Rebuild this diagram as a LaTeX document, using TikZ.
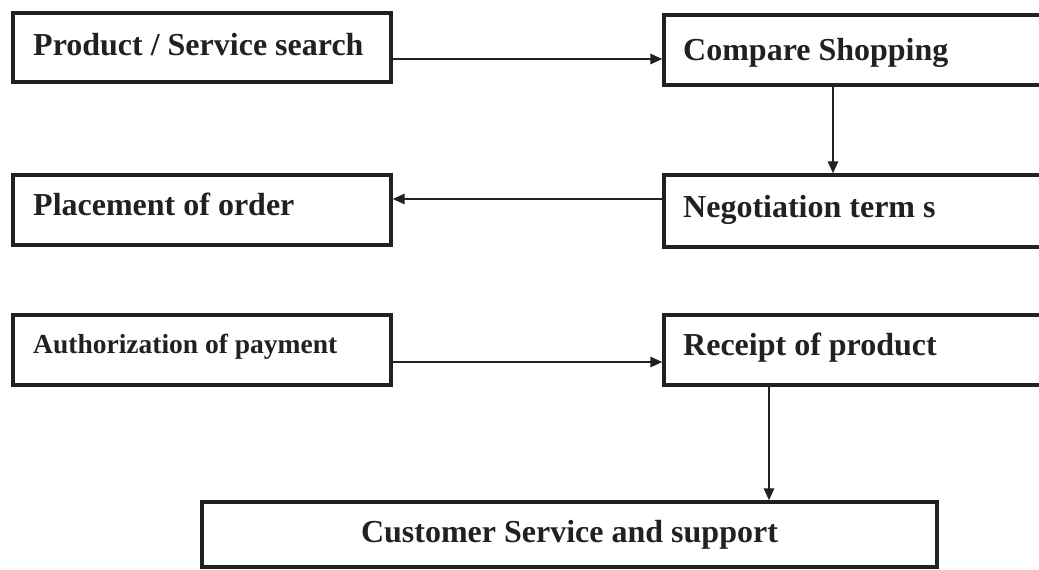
\documentclass[tikz,border=0pt]{standalone}
\usepackage{fontspec}
\setmainfont{Liberation Serif}
\usetikzlibrary{arrows.meta}
\definecolor{ink}{rgb}{0.13,0.13,0.13}
\tikzset{
  x=1pt, y=-1pt,
  stagebox/.style={draw=ink, line width=3.2pt, inner sep=0pt, fill=white},
  caption/.style={inner sep=0pt, text=ink, font=\fontsize{32}{38}\selectfont\bfseries},
  smallcaption/.style={caption, font=\fontsize{27.5}{33}\selectfont\bfseries},
  flow/.style={draw=ink, line width=2.6pt, -{Triangle[length=12pt,width=10pt]}}
}
\begin{document}
\begin{tikzpicture}
\useasboundingbox (0,0) rectangle (1039,570);
\clip (0,0) rectangle (1039,570);

% process stages (right column runs off the page edge)
\node[stagebox, minimum width=378pt, minimum height=69pt] (b1) at (202,47.5) {};
\node[stagebox, minimum width=381pt, minimum height=70pt] (b2) at (854.5,50) {};
\node[stagebox, minimum width=378pt, minimum height=70pt] (b3) at (202,210) {};
\node[stagebox, minimum width=381pt, minimum height=72pt] (b4) at (854.5,211) {};
\node[stagebox, minimum width=378pt, minimum height=70pt] (b5) at (202,350) {};
\node[stagebox, minimum width=381pt, minimum height=70pt] (b6) at (854.5,350) {};
\node[stagebox, minimum width=735pt, minimum height=65pt] (b7) at (569.5,534.5) {};

% stage captions
\node[caption, anchor=base west] (t1) at (33,55) {Product / Service search};
\node[caption, anchor=base west] (t2) at (683,60) {Compare Shopping};
\node[caption, anchor=base west] (t3) at (33,215) {Placement of order};
\node[caption, anchor=base west] (t4) at (683,217) {Negotiation term s};
\node[smallcaption, anchor=base west] (t5) at (33,353) {Authorization of payment};
\node[caption, anchor=base west] (t6) at (683,355) {Receipt of product};
\node[caption, anchor=base] (t7) at (569.5,542) {Customer Service and support};

% flow between stages
\draw[flow] (b1.east |- 0,59) -- (b2.west |- 0,59);
\draw[flow] (b2.south -| 833,0) -- (b4.north -| 833,0);
\draw[flow] (b4.west |- 0,199) -- (b3.east |- 0,199);
\draw[flow] (b5.east |- 0,362) -- (b6.west |- 0,362);
\draw[flow] (b6.south -| 769,0) -- (b7.north -| 769,0);
\end{tikzpicture}
\end{document}
